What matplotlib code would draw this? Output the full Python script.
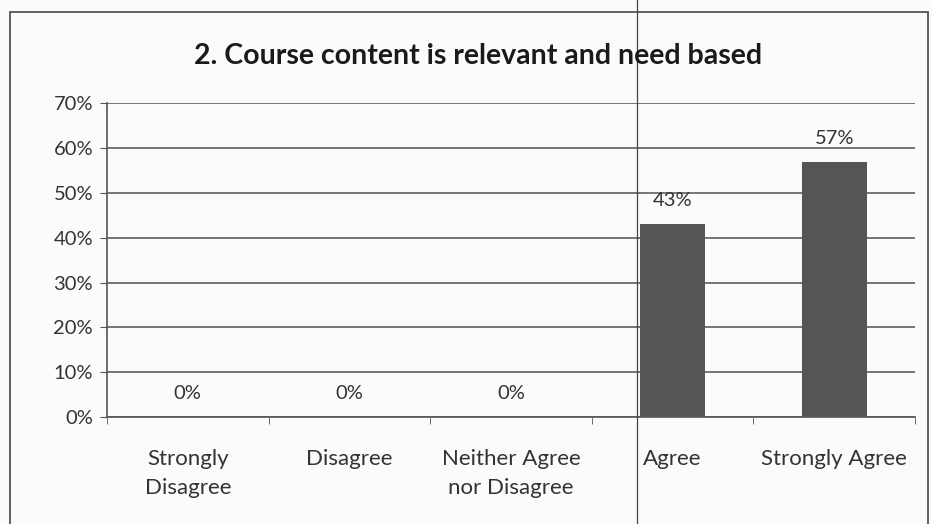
import matplotlib.pyplot as plt
from matplotlib.lines import Line2D
from matplotlib.patches import Rectangle
from matplotlib.ticker import FixedLocator

categories = ["Strongly\nDisagree", "Disagree", "Neither Agree\nnor Disagree",
              "Agree", "Strongly Agree"]
values = [0, 0, 0, 43, 57]
value_labels = ["0%", "0%", "0%", "43%", "57%"]
yticks = [0, 10, 20, 30, 40, 50, 60, 70]

plt.rcParams['font.family'] = ['Lato', 'DejaVu Sans']

fig = plt.figure(figsize=(9.32, 5.24), dpi=100)
fig.patch.set_facecolor('#fbfbfb')
ax = fig.add_axes([0.1148, 0.204, 0.867, 0.599])
ax.set_facecolor('#fbfbfb')

x = list(range(len(categories)))
ax.bar(x, values, width=0.4, color='#555555', zorder=3)

for xi, v, lab in zip(x, values, value_labels):
    ax.text(xi, v + 3.3, lab, ha='center', va='bottom', fontsize=14.5,
            color='#333333')

ax.set_xlim(-0.5, len(categories) - 0.5)
ax.set_ylim(0, 70)
ax.set_yticks(yticks)
ax.set_yticklabels([f"{t}%" for t in yticks], fontsize=14.5, color='#333333')
ax.yaxis.grid(True, color='#6a6a6a', linewidth=1.3, zorder=0)

ax.set_xticks(x)
ax.set_xticklabels(categories, fontsize=16, color='#333333', linespacing=1.55)
ax.xaxis.set_minor_locator(FixedLocator([i - 0.5 for i in range(len(categories) + 1)]))
ax.tick_params(axis='x', which='major', length=0, pad=23)
ax.tick_params(axis='x', which='minor', length=5, color='#555555')
ax.tick_params(axis='y', length=5, color='#555555', pad=5)

for s in ['top', 'right']:
    ax.spines[s].set_visible(False)
ax.spines['left'].set_color('#555555')
ax.spines['bottom'].set_color('#555555')
ax.spines['left'].set_linewidth(1.2)
ax.spines['bottom'].set_linewidth(1.2)

fig.text(0.513, 0.893, "2. Course content is relevant and need based",
         ha='center', va='center', fontsize=20.5, fontweight='bold',
         color='#1a1a1a')

# outer chart border
fig.add_artist(Rectangle((0.011, -0.01), 0.985, 0.987, transform=fig.transFigure,
                         fill=False, edgecolor='#555555', linewidth=1.3))
# vertical fold line from the scan
fig.add_artist(Line2D([0.684, 0.684], [0, 1], transform=fig.transFigure,
                      color='#444444', linewidth=0.9))

fig.savefig('out.png', dpi=100, facecolor=fig.get_facecolor())
